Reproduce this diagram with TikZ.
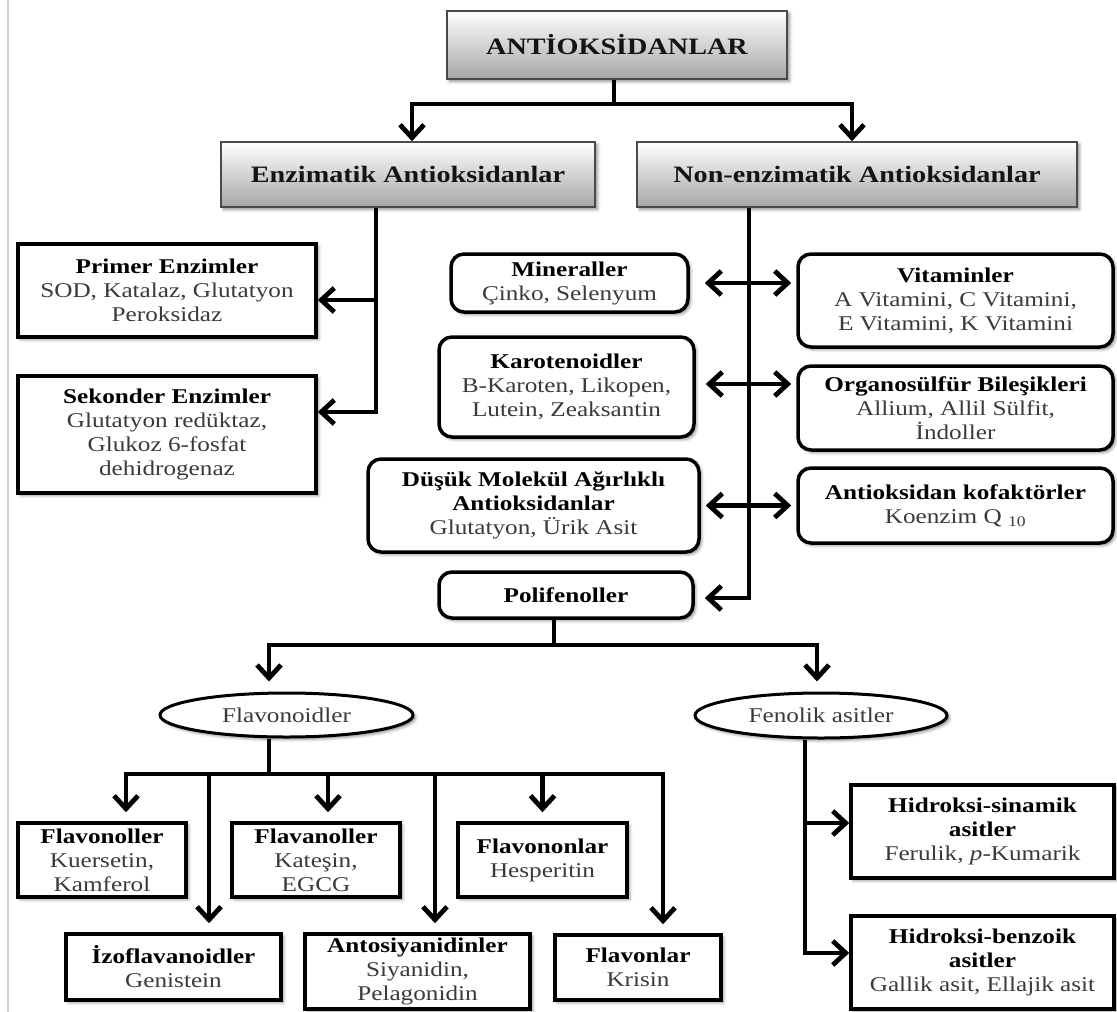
\documentclass[tikz,border=0pt]{standalone}
\usepackage{fontspec}
\setmainfont{Liberation Serif}[FakeStretch=1.2]
\usetikzlibrary{arrows.meta,shapes.geometric,shadows.blur,calc}
\definecolor{bodytxt}{HTML}{3A3A3A}
\definecolor{hdrborder}{HTML}{4A4A4A}
\newcommand\boxtitle[1]{{\color{black}\bfseries #1}}
\begin{document}
\begin{tikzpicture}[x=1pt,y=-1pt,
  every node/.style={font=\fontsize{21}{24}\selectfont, text=bodytxt, align=center, inner sep=2pt},
  softshadow/.style={blur shadow={shadow xshift=2.5pt, shadow yshift=-2.5pt, shadow blur radius=3pt, shadow opacity=45}},
  hdrbox/.style={draw=hdrborder, line width=1.5pt, top color=white, bottom color=gray!70, softshadow,
     font=\fontsize{23.5}{27}\selectfont\bfseries, text=black!92},
  sqbox/.style={draw=black, line width=3.5pt, fill=white, softshadow},
  rndbox/.style={sqbox, rounded corners=13pt},
  ovalbox/.style={ellipse, draw=black, line width=3pt, fill=white, softshadow, inner sep=0pt},
  conn/.style={line width=4.8pt, draw=black},
  arr/.style={conn, -{Straight Barb[length=13pt,width=24pt]}},
  dbl/.style={conn, {Straight Barb[length=13pt,width=24pt]}-{Straight Barb[length=13pt,width=24pt]}},
]
\useasboundingbox (0,0) rectangle (1117,1012);
\draw[black!18, line width=2pt] (8,0) -- (8,1012);

% header boxes
\node[hdrbox, minimum width=340, minimum height=68] (top) at (617,45) {ANTİOKSİDANLAR};
\node[hdrbox, minimum width=374, minimum height=65] (enz) at (408,174.5) {Enzimatik Antioksidanlar};
\node[hdrbox, minimum width=440, minimum height=65] (nonenz) at (857,174.5) {Non-enzimatik Antioksidanlar};

% enzymatic
\node[sqbox, minimum width=298, minimum height=93] (primer) at (167,290.5)
  {\boxtitle{Primer Enzimler}\\SOD, Katalaz, Glutatyon\\Peroksidaz};
\node[sqbox, minimum width=298, minimum height=117] (sekonder) at (167,434.5)
  {\boxtitle{Sekonder Enzimler}\\Glutatyon redüktaz,\\Glukoz 6-fosfat\\dehidrogenaz};

% non-enzymatic left
\node[rndbox, minimum width=237, minimum height=58] (min) at (569.5,283)
  {\boxtitle{Mineraller}\\Çinko, Selenyum};
\node[rndbox, minimum width=255, minimum height=100] (kar) at (566.5,387)
  {\boxtitle{Karotenoidler}\\B-Karoten, Likopen,\\Lutein, Zeaksantin};
\node[rndbox, minimum width=331, minimum height=93] (dus) at (533.5,505.5)
  {\boxtitle{Düşük Molekül Ağırlıklı}\\\boxtitle{Antioksidanlar}\\Glutatyon, Ürik Asit};
\node[rndbox, minimum width=254, minimum height=46] (polif) at (566,595)
  {\boxtitle{Polifenoller}};

% non-enzymatic right
\node[rndbox, minimum width=315, minimum height=93] (vit) at (955.5,300.5)
  {\boxtitle{Vitaminler}\\A Vitamini, C Vitamini,\\E Vitamini, K Vitamini};
\node[rndbox, minimum width=315, minimum height=84] (org) at (955.5,408)
  {\boxtitle{Organosülfür Bileşikleri}\\Allium, Allil Sülfit,\\İndoller};
\node[rndbox, minimum width=315, minimum height=75] (kof) at (955.5,505.5)
  {\boxtitle{Antioksidan kofaktörler}\\Koenzim Q \textsubscript{10}};

% polyphenols
\node[ovalbox, minimum width=253, minimum height=44] (flavd) at (286.5,715) {Flavonoidler};
\node[ovalbox, minimum width=252, minimum height=45] (fenol) at (821,715.5) {Fenolik asitler};

\node[sqbox, minimum width=168, minimum height=74] (flvl) at (102,860)
  {\boxtitle{Flavonoller}\\Kuersetin,\\Kamferol};
\node[sqbox, minimum width=168, minimum height=74] (flan) at (316,860)
  {\boxtitle{Flavanoller}\\Kateşin,\\EGCG};
\node[sqbox, minimum width=169, minimum height=74] (flon) at (542.5,860)
  {\boxtitle{Flavononlar}\\Hesperitin};
\node[sqbox, minimum width=215, minimum height=66] (izo) at (173.5,967)
  {\boxtitle{İzoflavanoidler}\\Genistein};
\node[sqbox, minimum width=225, minimum height=75] (anto) at (417.5,971.5)
  {\boxtitle{Antosiyanidinler}\\Siyanidin,\\Pelagonidin};
\node[sqbox, minimum width=166, minimum height=65] (flar) at (638,967.5)
  {\boxtitle{Flavonlar}\\Krisin};

\node[sqbox, minimum width=263, minimum height=93] (hsin) at (982.5,831.5)
  {\boxtitle{Hidroksi-sinamik}\\\boxtitle{asitler}\\Ferulik, \textit{p}-Kumarik};
\node[sqbox, minimum width=263, minimum height=93] (hben) at (982.5,962.5)
  {\boxtitle{Hidroksi-benzoik}\\\boxtitle{asitler}\\Gallik asit, Ellajik asit};

% connectors: top level
\coordinate (j1) at (614,104);
\draw[conn] (top.south -| j1) -- (j1);
\draw[arr] (j1) -| ([xshift=4]enz.north);
\draw[arr] (j1) -| ([xshift=-5]nonenz.north);

% enzymatic branch
\coordinate (ev) at (376,0);
\draw[arr] (enz.south -| ev) |- ([yshift=-9.5]primer.east);
\draw[arr] (enz.south -| ev) |- ([yshift=22.5]sekonder.east);

% non-enzymatic branch
\coordinate (nv) at (749,0);
\draw[arr, shorten >=10pt] (nonenz.south -| nv) |- ([yshift=-3]polif.east);
\draw[dbl, shorten <=15pt, shorten >=5pt] (min.east) -- (min.east -| vit.west);
\draw[dbl, shorten <=10pt, shorten >=5pt] ([yshift=3]kar.east) -- ([yshift=3]kar.east -| org.west);
\draw[dbl, shorten <=5pt, shorten >=5pt] (dus.east) -- (dus.east -| kof.west);

% polyphenols
\coordinate (pj) at (554,645);
\draw[conn] (polif.south -| pj) -- (pj);
\draw[arr, shorten >=10pt] (pj) -| ([xshift=-17.5]flavd.north);
\draw[arr, shorten >=10pt] (pj) -| ([xshift=-4]fenol.north);

% flavonoids
\coordinate (fj) at (269,774);
\draw[conn] (flavd.south -| fj) -- (fj);
\draw[arr, shorten >=9pt] (fj) -| ([xshift=24]flvl.north);
\draw[arr, shorten >=9pt] (fj) -| ([xshift=35.5]izo.north);
\draw[arr, shorten >=9pt] (fj) -| ([xshift=12]flan.north);
\draw[arr, shorten >=9pt] (fj) -| ([xshift=17.5]anto.north);
\draw[arr, shorten >=9pt] (fj) -| (flon.north);
\draw[arr, shorten >=9pt] (fj) -| ([xshift=25]flar.north);

% phenolic acids
\draw[arr] ([xshift=-16]fenol.south) |- ([yshift=8.5]hsin.west);
\draw[arr] ([xshift=-16]fenol.south) |- ([yshift=9.5]hben.west);
\end{tikzpicture}
\end{document}
